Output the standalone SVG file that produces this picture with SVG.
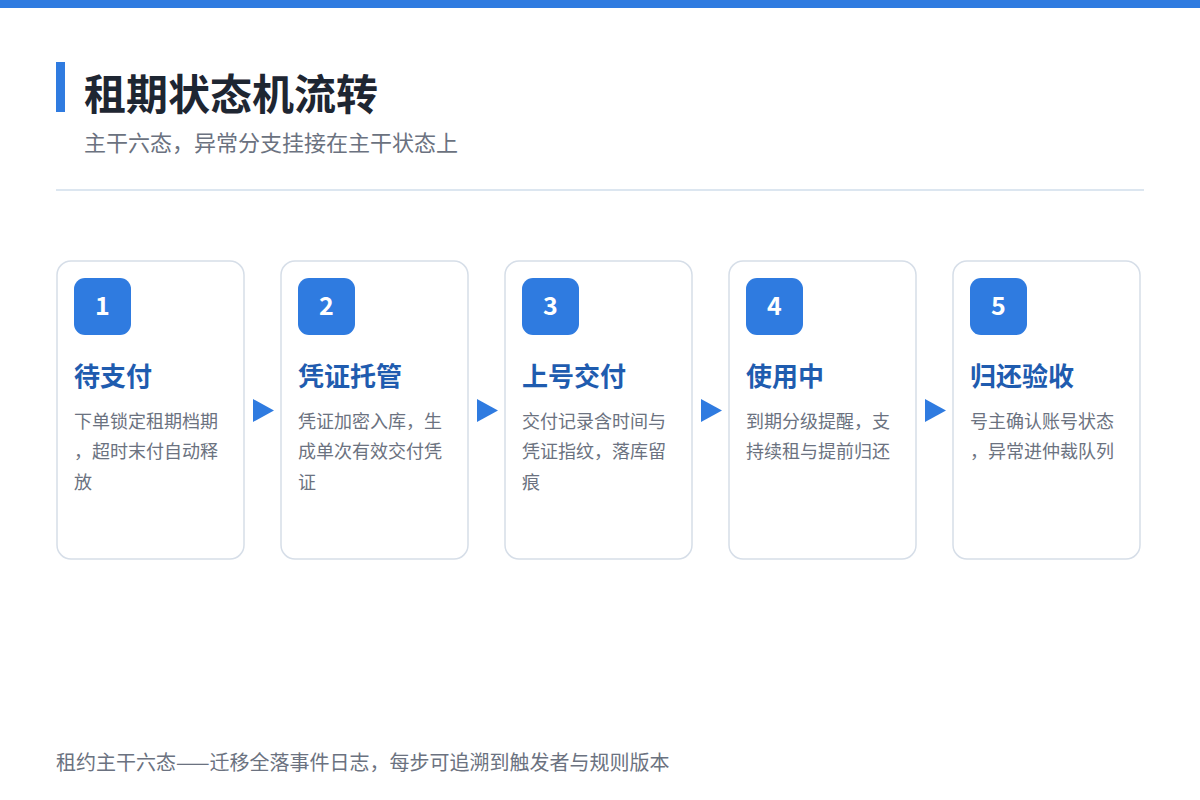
<svg xmlns="http://www.w3.org/2000/svg" width="1200" height="800" viewBox="0 0 1200 800">
<style>
text{font-family:"Noto Sans CJK SC","Noto Sans",sans-serif}
.card{fill:#FFFFFF;stroke:#D6DEE8;stroke-width:1.5}
.badge{fill:#2F7BE0}
.num{fill:#FFFFFF;font-size:25px;font-weight:700;text-anchor:middle}
.ttl{fill:#1F5CAF;font-size:26px;font-weight:700}
.desc{fill:#6B7280;font-size:18px}
.arrow{fill:#2F7BE0}
</style>
<rect x="0" y="0" width="1200" height="800" fill="#FFFFFF"/>
<rect x="0" y="0" width="1200" height="8" fill="#2F7BE0"/>
<g id="header">
<rect x="56" y="62" width="9" height="50" fill="#2F7BE0"/>
<text x="84" y="110" font-size="42" font-weight="700" fill="#1E2632">租期状态机流转</text>
<text x="84" y="151" font-size="22" fill="#6B7280">主干六态，异常分支挂接在主干状态上</text>
<rect x="56" y="189" width="1088" height="2" fill="#DCE6F0"/>
</g>
<g id="connectors">
<polygon class="arrow" points="253,399 274,410.5 253,422"/>
<polygon class="arrow" points="477,399 498,410.5 477,422"/>
<polygon class="arrow" points="701,399 722,410.5 701,422"/>
<polygon class="arrow" points="925,399 946,410.5 925,422"/>
</g>
<g id="node1">
<rect class="card" x="57" y="261" width="187" height="298" rx="14"/>
<rect class="badge" x="74" y="278" width="57" height="57" rx="11"/>
<text class="num" x="102.5" y="315">1</text>
<text class="ttl" x="74" y="386">待支付</text>
<text class="desc" x="74" y="428">下单锁定租期档期</text>
<text class="desc" x="74" y="458">，超时末付自动释</text>
<text class="desc" x="74" y="489">放</text>
</g>
<g id="node2">
<rect class="card" x="281" y="261" width="187" height="298" rx="14"/>
<rect class="badge" x="298" y="278" width="57" height="57" rx="11"/>
<text class="num" x="326.5" y="315">2</text>
<text class="ttl" x="298" y="386">凭证托管</text>
<text class="desc" x="298" y="428">凭证加密入库，生</text>
<text class="desc" x="298" y="458">成单次有效交付凭</text>
<text class="desc" x="298" y="489">证</text>
</g>
<g id="node3">
<rect class="card" x="505" y="261" width="187" height="298" rx="14"/>
<rect class="badge" x="522" y="278" width="57" height="57" rx="11"/>
<text class="num" x="550.5" y="315">3</text>
<text class="ttl" x="522" y="386">上号交付</text>
<text class="desc" x="522" y="428">交付记录含时间与</text>
<text class="desc" x="522" y="458">凭证指纹，落库留</text>
<text class="desc" x="522" y="489">痕</text>
</g>
<g id="node4">
<rect class="card" x="729" y="261" width="187" height="298" rx="14"/>
<rect class="badge" x="746" y="278" width="57" height="57" rx="11"/>
<text class="num" x="774.5" y="315">4</text>
<text class="ttl" x="746" y="386">使用中</text>
<text class="desc" x="746" y="428">到期分级提醒，支</text>
<text class="desc" x="746" y="458">持续租与提前归还</text>
</g>
<g id="node5">
<rect class="card" x="953" y="261" width="187" height="298" rx="14"/>
<rect class="badge" x="970" y="278" width="57" height="57" rx="11"/>
<text class="num" x="998.5" y="315">5</text>
<text class="ttl" x="970" y="386">归还验收</text>
<text class="desc" x="970" y="428">号主确认账号状态</text>
<text class="desc" x="970" y="458">，异常进仲裁队列</text>
</g>
<g id="footer">
<text x="56" y="770" font-size="20" fill="#6B7280">租约主干六态——迁移全落事件日志，每步可追溯到触发者与规则版本</text>
</g>
</svg>
